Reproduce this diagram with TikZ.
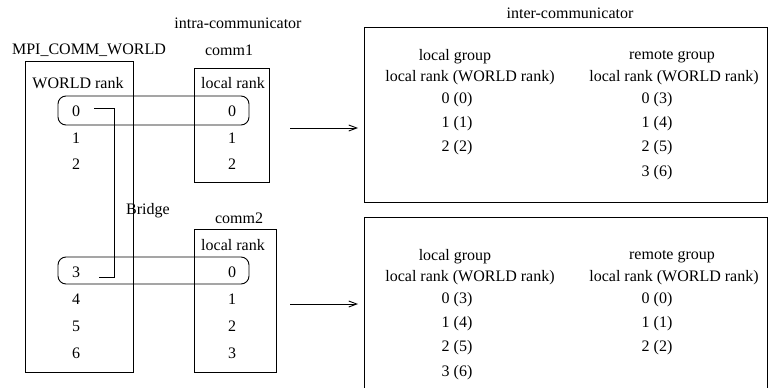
\documentclass[tikz,border=0pt]{standalone}
\usepackage{fontspec}
\setmainfont{Liberation Serif}
\usetikzlibrary{arrows.meta}
\begin{document}
\begin{tikzpicture}[x=1pt,y=-1pt,
  lbl/.style={inner sep=0pt, font=\fontsize{16}{19}\selectfont},
  boxst/.style={draw, line width=0.9pt, inner sep=0pt},
  ovalst/.style={draw, line width=0.9pt, rounded corners=8pt, inner sep=0pt},
  conn/.style={line width=0.9pt},
  arr/.style={line width=0.9pt, -{Straight Barb[length=8pt,width=6pt]}}]
\useasboundingbox (0,0) rectangle (768,388);
% boxes
\node[boxst, minimum width=108pt, minimum height=311pt] (world) at (79,216.5) {};
\node[boxst, minimum width=75pt, minimum height=114pt] (comm1) at (231.5,125) {};
\node[boxst, minimum width=82pt, minimum height=143pt] (comm2) at (235,300.5) {};
\node[ovalst, minimum width=191pt, minimum height=29pt] (oval1) at (153.5,110.5) {};
\node[ovalst, minimum width=191pt, minimum height=27pt] (oval2) at (153.5,270.5) {};
\node[boxst, minimum width=403pt, minimum height=175pt] (inter1) at (565.5,114.5) {};
\draw[line width=0.9pt] (364,390) -- (364,217) -- (767,217) -- (767,390);
% titles
\node[lbl] (tintra) at (238,23) {intra-communicator};
\node[lbl] (tworld) at (89,50) {MPI\_COMM\_WORLD};
\node[lbl] (tcomm1) at (229,50) {comm1};
\node[lbl] (tcomm2) at (239,218) {comm2};
\node[lbl] (tbridge) at (148,211) {Bridge};
\node[lbl] (tinter) at (570,13) {inter-communicator};
% world column
\node[lbl] (wr) at (78,83) {WORLD rank};
\node[lbl] (w0) at (76,111) {0};
\node[lbl] (w1) at (76,138) {1};
\node[lbl] (w2) at (76,164) {2};
\node[lbl] (w3) at (76,272) {3};
\node[lbl] (w4) at (76,299) {4};
\node[lbl] (w5) at (76,326) {5};
\node[lbl] (w6) at (76,353) {6};
% comm1 column
\node[lbl] (c1r) at (233,83) {local rank};
\node[lbl] (c10) at (232,111) {0};
\node[lbl] (c11) at (232,138) {1};
\node[lbl] (c12) at (232,164) {2};
% comm2 column
\node[lbl] (c2r) at (233,245) {local rank};
\node[lbl] (c20) at (232,272) {0};
\node[lbl] (c21) at (232,299) {1};
\node[lbl] (c22) at (232,326) {2};
\node[lbl] (c23) at (232,353) {3};
% bridge
\coordinate (b0) at (94,108);
\coordinate (b1) at (114,108);
\coordinate (b2) at (114,277);
\coordinate (b3) at (99,277);
\draw[conn] (b0) -- (b1) -- (b2) -- (b3);
% arrows
\coordinate (a1s) at (290,128);
\coordinate (a1e) at (358,128);
\coordinate (a2s) at (290,304);
\coordinate (a2e) at (358,304);
\draw[arr] (a1s) -- (a1e);
\draw[arr] (a2s) -- (a2e);
% inter 1
\node[lbl] (i1lg) at (455,57) {local group};
\node[lbl] (i1rg) at (672,57) {remote group};
\node[lbl] (i1lr) at (470,78) {local rank (WORLD rank)};
\node[lbl] (i1rr) at (674,78) {local rank (WORLD rank)};
\node[lbl] (i1l0) at (457,100) {0 (0)};
\node[lbl] (i1l1) at (457,124) {1 (1)};
\node[lbl] (i1l2) at (457,148) {2 (2)};
\node[lbl] (i1r0) at (657,100) {0 (3)};
\node[lbl] (i1r1) at (657,124) {1 (4)};
\node[lbl] (i1r2) at (657,148) {2 (5)};
\node[lbl] (i1r3) at (657,173) {3 (6)};
% inter 2
\node[lbl] (i2lg) at (455,257) {local group};
\node[lbl] (i2rg) at (672,257) {remote group};
\node[lbl] (i2lr) at (470,278) {local rank (WORLD rank)};
\node[lbl] (i2rr) at (674,278) {local rank (WORLD rank)};
\node[lbl] (i2l0) at (457,300) {0 (3)};
\node[lbl] (i2l1) at (457,324) {1 (4)};
\node[lbl] (i2l2) at (457,348) {2 (5)};
\node[lbl] (i2l3) at (457,373) {3 (6)};
\node[lbl] (i2r0) at (657,300) {0 (0)};
\node[lbl] (i2r1) at (657,324) {1 (1)};
\node[lbl] (i2r2) at (657,348) {2 (2)};
\end{tikzpicture}
\end{document}
